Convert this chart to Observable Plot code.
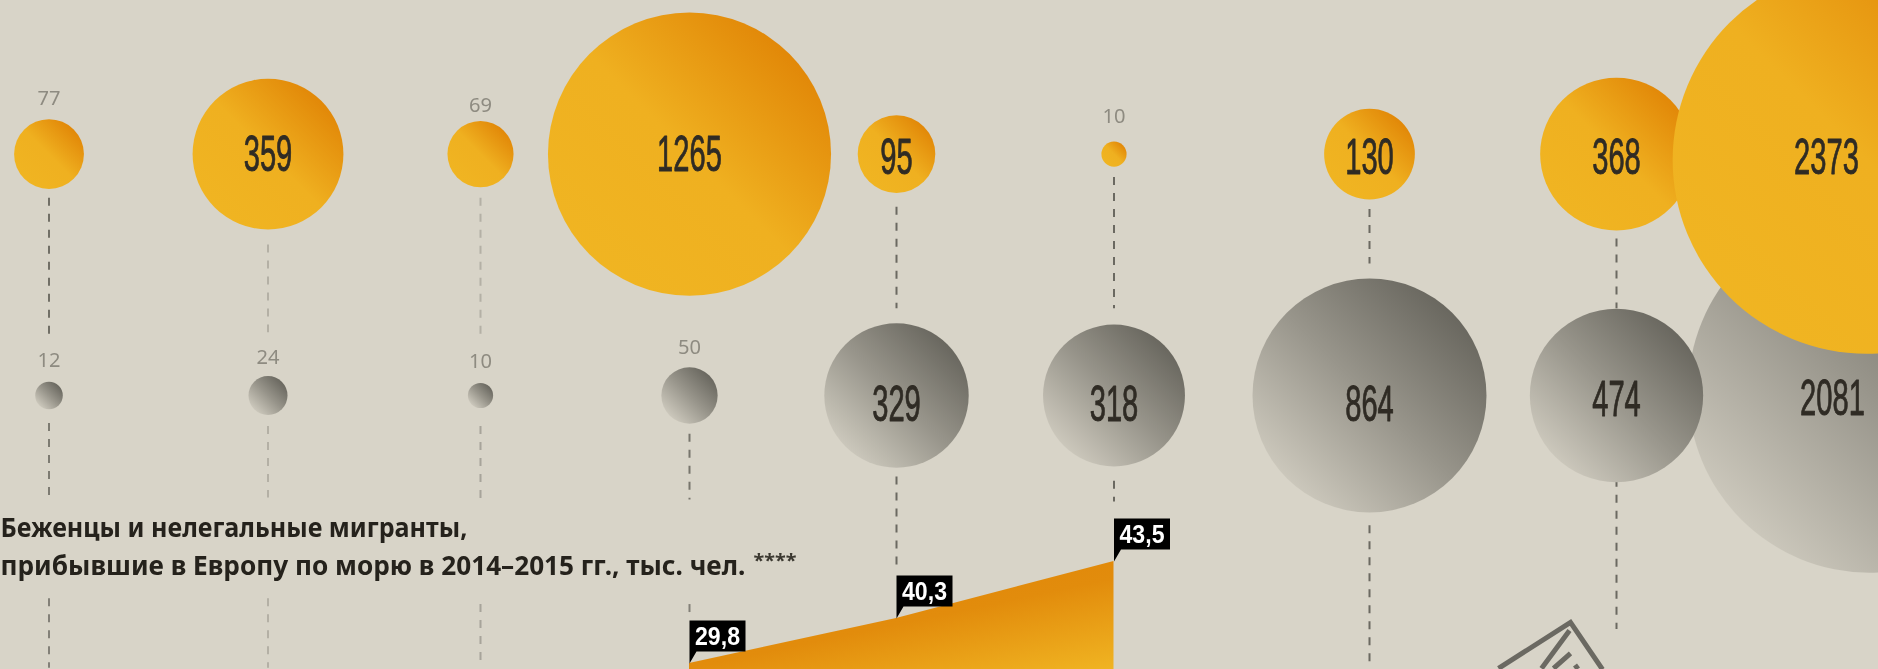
<!DOCTYPE html>
<html lang="ru">
<head>
<meta charset="utf-8">
<title>Беженцы и нелегальные мигранты</title>
<script src="https://cdn.jsdelivr.net/npm/d3@7"></script>
<script src="https://cdn.jsdelivr.net/npm/@observablehq/plot@0.6"></script>
<style>
html,body{margin:0;padding:0;background:#d8d4c8;overflow:hidden}
#chart{position:relative;width:1878px;height:669px;overflow:hidden;filter:blur(.5px)}
#chart svg{position:absolute;left:0;top:0}
</style>
</head>
<body>
<div id="chart"></div>
<script>
// Values
const orangeValues = [77, 359, 69, 1265, 95, 10, 130, 368, 2373];
const greyValues   = [12, 24, 10, 50, 329, 318, 864, 474, 2081];
const seaColumns   = [3, 4, 5];
const seaValues    = [29.8, 40.3, 43.5];
const seaLabels    = ["29,8", "40,3", "43,5"];
const titleLines   = ["Беженцы и нелегальные мигранты,", "прибывшие в Европу по морю в 2014–2015 гг., тыс. чел."];
const titleNote    = "****";

// Scale set-up
const columnDomain = [0, 1, 2, 3, 4, 5, 6, 7, 8, 9];
const columnRange  = [48.5, 267.5, 480, 689, 896, 1113.5, 1369, 1616, 1826, 1878];
const rowGrey = 0, rowOrange = 1;
const rowRange = [395, 153.6];
const pxPerRow = rowRange[0] - rowRange[1];
const radiusPerRootUnit = 3.98;
const radiusOf = v => radiusPerRootUnit * Math.sqrt(v);
const insideThreshold = 90;
// The last column's bubbles run off the page edge and sit off their labels
const lastBubble = {orange: {col: 8.77, row: 0.976}, grey: {col: 8.83, row: 0.018}};
const lastLabel  = {orange: {col: 8, row: 1}, grey: {col: 8.115, row: 0}};
// Hand placement of each label, in pixels downward
const orangeLabelNudge = [-1, -2, 5, -2, 1, -5, 1, 1, 1];
const greyLabelNudge   = [-1, 2, -1, 0, 6, 6, 6, 1, 0];

// Dashed leaders: column, from, to (row units), opacity
const leaders = [
  [0, .817, .243, .85], [0, -.116, -.433, .75], [0, -.842, -1.13, .7],
  [1, .623, .26, .3],  [1, -.128, -.425, .3],  [1, -.842, -1.13, .3],
  [2, .817, .243, .3], [2, -.128, -.433, .4],  [2, -.866, -1.13, .4],
  [3, -.161, -.433, .8], [3, -.866, -.912, .7],
  [4, .78, .359, .9], [4, -.338, -.734, .9],
  [5, .903, .359, .9], [5, -.355, -.441, .9],
  [6, .771, .545, .9], [6, -.54, -1.13, .9],
  [7, .648, .359, .9], [7, -.347, -.969, .9]
].map(([col, from, to, opacity]) => ({col, from, to, opacity}));

const rowsFor = (values, row, key, nudges) => values.map((value, i) => {
  const last = i === values.length - 1;
  const labelBase = last ? lastLabel[key].row : row;
  return {
    value, r: value,
    col: last ? lastBubble[key].col : i,
    row: last ? lastBubble[key].row : row,
    labelCol: last ? lastLabel[key].col : i,
    labelRow: labelBase - nudges[i] / pxPerRow,
    outerRow: row + (radiusOf(value) + 20 - nudges[i]) / pxPerRow
  };
});
const orangeRows = rowsFor(orangeValues, rowOrange, "orange", orangeLabelNudge);
const greyRows   = rowsFor(greyValues, rowGrey, "grey", greyLabelNudge);
const allRows    = [...greyRows, ...orangeRows];
const seaRows    = seaValues.map((value, i) => ({col: seaColumns[i], value, label: seaLabels[i]}));

// Condense a text horizontally to a target width (no condensed face is installed)
const measure = document.createElement("canvas").getContext("2d");
const condensed = (font, widthOf) => ({
  render(index, scales, values, dims, ctx, next) {
    const g = next(index, scales, values, dims, ctx);
    measure.font = font;
    d3.select(g).selectAll("text").each(function () {
      const t = this.textContent;
      const sx = widthOf(t) / measure.measureText(t).width;
      this.setAttribute("transform", (this.getAttribute("transform") || "") + ` scale(${sx},1)`);
    });
    return g;
  }
});

const gradientDefs = () => {
  const defs = d3.create("svg:defs");
  const add = (id, [x1, y1, x2, y2], stops) => {
    const g = defs.append("linearGradient").attr("id", id)
      .attr("x1", x1).attr("y1", y1).attr("x2", x2).attr("y2", y2);
    stops.forEach(([o, c]) => g.append("stop").attr("offset", o).attr("stop-color", c));
  };
  add("orangeBall", [.9, .1, .1, .9], [[0, "#e08305"], [.5, "#efb020"], [1, "#f0b522"]]);
  add("greyBall", [.88, .12, .12, .88], [[0, "#66645c"], [.5, "#98958b"], [1, "#cfcbbf"]]);
  add("seaFill", [.25, .1, 1, 1], [[0, "#e08508"], [.45, "#e28c0c"], [1, "#f0b422"]]);
  return defs.node();
};

// Icon at the foot of the page, cropped by the page edge
const iconSymbol = {draw(c) {
  c.moveTo(-72, 46); c.lineTo(0, 0); c.lineTo(32, 47);
  c.moveTo(-29, 46); c.lineTo(-1, 8);
  c.moveTo(-17, 46); c.lineTo(0, 31);
  c.moveTo(4, 46); c.lineTo(8, 43);
}};
// Black flag with a pointer, anchored at the value
const flagSymbol = {draw(c) {
  c.moveTo(0, 0); c.lineTo(0, -43); c.lineTo(56, -43); c.lineTo(56, -12); c.lineTo(7, -12); c.closePath();
}};

const numberFont = "'Liberation Sans Narrow','Liberation Sans',sans-serif";
const titleFont = "'Noto Sans',sans-serif";

const bubbles = Plot.plot({
  width: 1878, height: 669, margin: 0,
  style: {background: "transparent", overflow: "hidden"},
  x: {type: "linear", domain: columnDomain, range: columnRange, axis: null},
  y: {type: "linear", domain: [rowGrey, rowOrange], range: rowRange, axis: null},
  r: {type: "sqrt", domain: [0, 2373], range: [0, radiusOf(2373)]},
  marks: [
    gradientDefs,
    Plot.ruleX(leaders, {x: "col", y1: "from", y2: "to", stroke: "#5f5d55", strokeWidth: 2, strokeOpacity: "opacity", strokeDasharray: "8,8"}),
    Plot.dot(greyRows, {x: "col", y: "row", r: "r", fill: "url(#greyBall)"}),
    Plot.dot(orangeRows, {x: "col", y: "row", r: "r", fill: "url(#orangeBall)", sort: null}),
    Plot.text(allRows.filter(d => d.value >= insideThreshold), {
      x: "labelCol", y: "labelRow", text: d => String(d.value), dy: 3,
      fontFamily: numberFont, fontSize: 50, fill: "#2f2b24", stroke: "#2f2b24", strokeWidth: .9,
      ...condensed(`50px ${numberFont}`, t => t.length * 16.2)
    }),
    Plot.text(allRows.filter(d => d.value < insideThreshold), {
      x: "labelCol", y: "outerRow", text: d => String(d.value),
      fontFamily: titleFont, fontSize: 20, fill: "#8e8b81",
      ...condensed(`20px ${titleFont}`, t => t.length * 11.5)
    }),
    Plot.dot([{col: 7, row: -.94}], {x: "col", y: "row", dx: -46, symbol: iconSymbol, stroke: "#6b6962", strokeWidth: 5, fill: "none", r: 10})
  ]
});

const sea = Plot.plot({
  width: 1878, height: 669, margin: 0,
  style: {background: "transparent", overflow: "hidden"},
  x: {type: "linear", domain: columnDomain, range: columnRange, axis: null},
  y: {type: "linear", domain: [28.6, 29.8, 40.3, 43.5], range: [669, 663, 618, 561], axis: null},
  marks: [
    gradientDefs,
    Plot.areaY(seaRows, {x: "col", y1: 28.6, y2: "value", fill: "url(#seaFill)"}),
    Plot.dot(seaRows, {x: "col", y: "value", symbol: flagSymbol, fill: "#000", r: 10}),
    Plot.text(seaRows, {
      x: "col", y: "value", text: "label", dx: 28, dy: -27,
      fontFamily: numberFont, fontWeight: 700, fontSize: 25, fill: "#fff",
      ...condensed(`700 25px ${numberFont}`, () => 45)
    }),
    Plot.text([titleLines[0]], {
      frameAnchor: "top-left", dy: 518, text: d => d, textAnchor: "start",
      fontFamily: titleFont, fontWeight: 700, fontSize: 26, fill: "#25221c",
      ...condensed(`700 26px ${titleFont}`, () => 467)
    }),
    Plot.text([titleLines[1]], {
      frameAnchor: "top-left", dy: 556, text: d => d, textAnchor: "start",
      fontFamily: titleFont, fontWeight: 700, fontSize: 26, fill: "#25221c",
      ...condensed(`700 26px ${titleFont}`, () => 745)
    }),
    Plot.text([titleNote], {
      frameAnchor: "top-left", dx: 753, dy: 554, text: d => d, textAnchor: "start",
      fontFamily: titleFont, fontWeight: 700, fontSize: 18, fill: "#3b3830",
      ...condensed(`700 18px ${titleFont}`, () => 43)
    })
  ]
});

const host = document.getElementById("chart");
host.append(bubbles, sea);
</script>
</body>
</html>
